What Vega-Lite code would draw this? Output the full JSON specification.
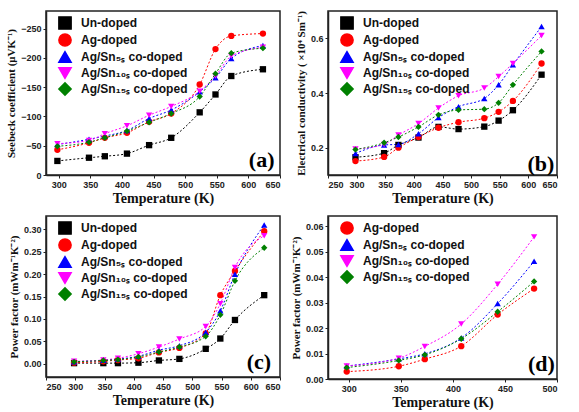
{
  "$schema": "https://vega.github.io/schema/vega-lite/v6.json",
  "padding": {"left": 4, "top": 9, "right": 5, "bottom": 0},
  "background": "white",
  "datasets": {
    "a": [
      {"T":298,"s":"U","v":-24},{"T":348,"s":"U","v":-29.5},{"T":373,"s":"U","v":-32},{"T":408,"s":"U","v":-36.5},{"T":443,"s":"U","v":-51},{"T":478,"s":"U","v":-63.5},{"T":523,"s":"U","v":-107},{"T":548,"s":"U","v":-137.5},{"T":573,"s":"U","v":-169},{"T":623,"s":"U","v":-180.5},
      {"T":298,"s":"A","v":-43},{"T":348,"s":"A","v":-55},{"T":373,"s":"A","v":-63.5},{"T":408,"s":"A","v":-72},{"T":443,"s":"A","v":-91},{"T":478,"s":"A","v":-105},{"T":523,"s":"A","v":-154.5},{"T":548,"s":"A","v":-215},{"T":573,"s":"A","v":-237.5},{"T":623,"s":"A","v":-241.5},
      {"T":298,"s":"S5","v":-52},{"T":348,"s":"S5","v":-61},{"T":373,"s":"S5","v":-66.5},{"T":408,"s":"S5","v":-76},{"T":443,"s":"S5","v":-96.5},{"T":478,"s":"S5","v":-111},{"T":523,"s":"S5","v":-142},{"T":548,"s":"S5","v":-166},{"T":573,"s":"S5","v":-199},{"T":623,"s":"S5","v":-221},
      {"T":298,"s":"S10","v":-53.5},{"T":348,"s":"S10","v":-59},{"T":373,"s":"S10","v":-70.5},{"T":408,"s":"S10","v":-84},{"T":443,"s":"S10","v":-102},{"T":478,"s":"S10","v":-117},{"T":523,"s":"S10","v":-143},{"T":548,"s":"S10","v":-169},{"T":573,"s":"S10","v":-203},{"T":623,"s":"S10","v":-218},
      {"T":298,"s":"S15","v":-49},{"T":348,"s":"S15","v":-56},{"T":373,"s":"S15","v":-63.5},{"T":408,"s":"S15","v":-75},{"T":443,"s":"S15","v":-90},{"T":478,"s":"S15","v":-105},{"T":523,"s":"S15","v":-134},{"T":548,"s":"S15","v":-173},{"T":573,"s":"S15","v":-208},{"T":623,"s":"S15","v":-216.5}
    ],
    "b": [
      {"T":298,"s":"U","v":0.165},{"T":348,"s":"U","v":0.18},{"T":373,"s":"U","v":0.21},{"T":408,"s":"U","v":0.237},{"T":443,"s":"U","v":0.276},{"T":478,"s":"U","v":0.268},{"T":523,"s":"U","v":0.277},{"T":548,"s":"U","v":0.299},{"T":573,"s":"U","v":0.337},{"T":623,"s":"U","v":0.467},
      {"T":298,"s":"A","v":0.151},{"T":348,"s":"A","v":0.166},{"T":373,"s":"A","v":0.2},{"T":408,"s":"A","v":0.239},{"T":443,"s":"A","v":0.273},{"T":478,"s":"A","v":0.293},{"T":523,"s":"A","v":0.308},{"T":548,"s":"A","v":0.331},{"T":573,"s":"A","v":0.371},{"T":623,"s":"A","v":0.508},
      {"T":298,"s":"S5","v":0.179},{"T":348,"s":"S5","v":0.21},{"T":373,"s":"S5","v":0.212},{"T":408,"s":"S5","v":0.251},{"T":443,"s":"S5","v":0.31},{"T":478,"s":"S5","v":0.35},{"T":523,"s":"S5","v":0.38},{"T":548,"s":"S5","v":0.43},{"T":573,"s":"S5","v":0.503},{"T":623,"s":"S5","v":0.643},
      {"T":298,"s":"S10","v":0.195},{"T":348,"s":"S10","v":0.212},{"T":373,"s":"S10","v":0.246},{"T":408,"s":"S10","v":0.288},{"T":443,"s":"S10","v":0.345},{"T":478,"s":"S10","v":0.39},{"T":523,"s":"S10","v":0.418},{"T":548,"s":"S10","v":0.46},{"T":573,"s":"S10","v":0.508},{"T":623,"s":"S10","v":0.61},
      {"T":298,"s":"S15","v":0.193},{"T":348,"s":"S15","v":0.218},{"T":373,"s":"S15","v":0.239},{"T":408,"s":"S15","v":0.276},{"T":443,"s":"S15","v":0.32},{"T":478,"s":"S15","v":0.338},{"T":523,"s":"S15","v":0.341},{"T":548,"s":"S15","v":0.364},{"T":573,"s":"S15","v":0.43},{"T":623,"s":"S15","v":0.552}
    ],
    "c": [
      {"T":298,"s":"U","v":0.001},{"T":348,"s":"U","v":0.001},{"T":373,"s":"U","v":0.001},{"T":408,"s":"U","v":0.002},{"T":443,"s":"U","v":0.007},{"T":478,"s":"U","v":0.0105},{"T":523,"s":"U","v":0.033},{"T":548,"s":"U","v":0.056},{"T":573,"s":"U","v":0.0975},{"T":623,"s":"U","v":0.153},
      {"T":298,"s":"A","v":0.002},{"T":348,"s":"A","v":0.005},{"T":373,"s":"A","v":0.008},{"T":408,"s":"A","v":0.012},{"T":443,"s":"A","v":0.025},{"T":478,"s":"A","v":0.035},{"T":523,"s":"A","v":0.0675},{"T":548,"s":"A","v":0.153},{"T":573,"s":"A","v":0.207},{"T":623,"s":"A","v":0.296},
      {"T":298,"s":"S5","v":0.004},{"T":348,"s":"S5","v":0.0075},{"T":373,"s":"S5","v":0.01},{"T":408,"s":"S5","v":0.0165},{"T":443,"s":"S5","v":0.03},{"T":478,"s":"S5","v":0.04},{"T":523,"s":"S5","v":0.07},{"T":548,"s":"S5","v":0.118},{"T":573,"s":"S5","v":0.2},{"T":623,"s":"S5","v":0.31},
      {"T":298,"s":"S10","v":0.005},{"T":348,"s":"S10","v":0.008},{"T":373,"s":"S10","v":0.012},{"T":408,"s":"S10","v":0.022},{"T":443,"s":"S10","v":0.037},{"T":478,"s":"S10","v":0.055},{"T":523,"s":"S10","v":0.083},{"T":548,"s":"S10","v":0.134},{"T":573,"s":"S10","v":0.215},{"T":623,"s":"S10","v":0.286},
      {"T":298,"s":"S15","v":0.004},{"T":348,"s":"S15","v":0.007},{"T":373,"s":"S15","v":0.009},{"T":408,"s":"S15","v":0.015},{"T":443,"s":"S15","v":0.026},{"T":478,"s":"S15","v":0.037},{"T":523,"s":"S15","v":0.061},{"T":548,"s":"S15","v":0.109},{"T":573,"s":"S15","v":0.185},{"T":623,"s":"S15","v":0.259}
    ],
    "d": [
      {"T":298,"s":"A","v":0.0029},{"T":348,"s":"A","v":0.005},{"T":373,"s":"A","v":0.0078},{"T":408,"s":"A","v":0.0129},{"T":443,"s":"A","v":0.0253},{"T":478,"s":"A","v":0.0355},
      {"T":298,"s":"S5","v":0.0051},{"T":348,"s":"S5","v":0.0079},{"T":373,"s":"S5","v":0.0099},{"T":408,"s":"S5","v":0.0161},{"T":443,"s":"S5","v":0.0296},{"T":478,"s":"S5","v":0.0462},
      {"T":298,"s":"S10","v":0.0051},{"T":348,"s":"S10","v":0.0082},{"T":373,"s":"S10","v":0.0128},{"T":408,"s":"S10","v":0.0216},{"T":443,"s":"S10","v":0.0372},{"T":478,"s":"S10","v":0.0558},
      {"T":298,"s":"S15","v":0.0045},{"T":348,"s":"S15","v":0.0073},{"T":373,"s":"S15","v":0.0095},{"T":408,"s":"S15","v":0.0158},{"T":443,"s":"S15","v":0.0264},{"T":478,"s":"S15","v":0.0383}
    ]
  },
  "columns": 2,
  "spacing": {"row": 9, "column": 7},
  "resolve": {"scale": {"color": "independent", "shape": "independent"}, "legend": {"color": "independent", "shape": "independent"}},
  "concat": [
    {
      "width": 234, "height": 164,
      "data": {"name": "a"},
      "encoding": {
        "x": {"field": "T", "type": "quantitative", "scale": {"domain": [280, 650], "nice": false, "zero": false}, "axis": {"values": [300,350,400,450,500,550,600,650], "title": "Temperature (K)"}},
        "y": {"field": "v", "type": "quantitative", "scale": {"domain": [-280, 0], "nice": false, "reverse": true}, "axis": {"values": [-250,-200,-150,-100,-50,0], "format": "d", "title": "Seebeck coefficient (μVK⁻¹)"}}
      },
      "layer": [
        {"mark": {"type": "line", "interpolate": "monotone", "strokeDash": [2, 2], "strokeWidth": 1},
         "encoding": {"color": {"field": "s", "type": "nominal", "scale": {"domain": ["U","A","S5","S10","S15"], "range": ["#000000","#ff0000","#0000ff","#ff00ff","#008000"]}, "legend": {"labelExpr": "{'U':'Un-doped','A':'Ag-doped','S5':'Ag/Sn₅ₛ co-doped','S10':'Ag/Sn₁₀ₛ co-doped','S15':'Ag/Sn₁₅ₛ co-doped'}[datum.value]"}}}},
        {"mark": {"type": "point", "filled": true, "size": 40, "opacity": 1},
         "encoding": {"color": {"field": "s", "type": "nominal", "scale": {"domain": ["U","A","S5","S10","S15"], "range": ["#000000","#ff0000","#0000ff","#ff00ff","#008000"]}, "legend": {"labelExpr": "{'U':'Un-doped','A':'Ag-doped','S5':'Ag/Sn₅ₛ co-doped','S10':'Ag/Sn₁₀ₛ co-doped','S15':'Ag/Sn₁₅ₛ co-doped'}[datum.value]"}},
                      "shape": {"field": "s", "type": "nominal", "scale": {"domain": ["U","A","S5","S10","S15"], "range": ["square","circle","triangle-up","triangle-down","diamond"]}, "legend": {"labelExpr": "{'U':'Un-doped','A':'Ag-doped','S5':'Ag/Sn₅ₛ co-doped','S10':'Ag/Sn₁₀ₛ co-doped','S15':'Ag/Sn₁₅ₛ co-doped'}[datum.value]"}}}},
        {"data": {"values": [{"T": 621, "v": -26, "lab": "(a)"}]},
         "mark": {"type": "text", "font": "Liberation Serif", "fontWeight": "bold", "fontSize": 22, "color": "black"},
         "encoding": {"text": {"field": "lab"}}}
      ]
    },
    {
      "width": 229, "height": 164,
      "data": {"name": "b"},
      "encoding": {
        "x": {"field": "T", "type": "quantitative", "scale": {"domain": [250, 650], "nice": false, "zero": false}, "axis": {"values": [250,300,350,400,450,500,550,600,650], "title": "Temperature (K)"}},
        "y": {"field": "v", "type": "quantitative", "scale": {"domain": [0.1, 0.7], "nice": false, "zero": false}, "axis": {"values": [0.2,0.4,0.6], "format": ".1f", "title": "Electrical conductivity ( ×10⁴ Sm⁻¹)"}}
      },
      "layer": [
        {"mark": {"type": "line", "interpolate": "monotone", "strokeDash": [2, 2], "strokeWidth": 1},
         "encoding": {"color": {"field": "s", "type": "nominal", "scale": {"domain": ["U","A","S5","S10","S15"], "range": ["#000000","#ff0000","#0000ff","#ff00ff","#008000"]}, "legend": {"labelExpr": "{'U':'Un-doped','A':'Ag-doped','S5':'Ag/Sn₅ₛ co-doped','S10':'Ag/Sn₁₀ₛ co-doped','S15':'Ag/Sn₁₅ₛ co-doped'}[datum.value]"}}}},
        {"mark": {"type": "point", "filled": true, "size": 40, "opacity": 1},
         "encoding": {"color": {"field": "s", "type": "nominal", "scale": {"domain": ["U","A","S5","S10","S15"], "range": ["#000000","#ff0000","#0000ff","#ff00ff","#008000"]}, "legend": {"labelExpr": "{'U':'Un-doped','A':'Ag-doped','S5':'Ag/Sn₅ₛ co-doped','S10':'Ag/Sn₁₀ₛ co-doped','S15':'Ag/Sn₁₅ₛ co-doped'}[datum.value]"}},
                      "shape": {"field": "s", "type": "nominal", "scale": {"domain": ["U","A","S5","S10","S15"], "range": ["square","circle","triangle-up","triangle-down","diamond"]}, "legend": {"labelExpr": "{'U':'Un-doped','A':'Ag-doped','S5':'Ag/Sn₅ₛ co-doped','S10':'Ag/Sn₁₀ₛ co-doped','S15':'Ag/Sn₁₅ₛ co-doped'}[datum.value]"}}}},
        {"data": {"values": [{"T": 622, "v": 0.141, "lab": "(b)"}]},
         "mark": {"type": "text", "font": "Liberation Serif", "fontWeight": "bold", "fontSize": 22, "color": "black"},
         "encoding": {"text": {"field": "lab"}}}
      ]
    },
    {
      "width": 234, "height": 161,
      "data": {"name": "c"},
      "encoding": {
        "x": {"field": "T", "type": "quantitative", "scale": {"domain": [250, 650], "nice": false, "zero": false}, "axis": {"values": [250,300,350,400,450,500,550,600,650], "title": "Temperature (K)"}},
        "y": {"field": "v", "type": "quantitative", "scale": {"domain": [-0.03, 0.33], "nice": false, "zero": false}, "axis": {"values": [0,0.05,0.1,0.15,0.2,0.25,0.3], "format": ".2f", "title": "Power factor (mWm⁻¹K⁻²)"}}
      },
      "layer": [
        {"mark": {"type": "line", "interpolate": "monotone", "strokeDash": [2, 2], "strokeWidth": 1},
         "encoding": {"color": {"field": "s", "type": "nominal", "scale": {"domain": ["U","A","S5","S10","S15"], "range": ["#000000","#ff0000","#0000ff","#ff00ff","#008000"]}, "legend": {"labelExpr": "{'U':'Un-doped','A':'Ag-doped','S5':'Ag/Sn₅ₛ co-doped','S10':'Ag/Sn₁₀ₛ co-doped','S15':'Ag/Sn₁₅ₛ co-doped'}[datum.value]"}}}},
        {"mark": {"type": "point", "filled": true, "size": 40, "opacity": 1},
         "encoding": {"color": {"field": "s", "type": "nominal", "scale": {"domain": ["U","A","S5","S10","S15"], "range": ["#000000","#ff0000","#0000ff","#ff00ff","#008000"]}, "legend": {"labelExpr": "{'U':'Un-doped','A':'Ag-doped','S5':'Ag/Sn₅ₛ co-doped','S10':'Ag/Sn₁₀ₛ co-doped','S15':'Ag/Sn₁₅ₛ co-doped'}[datum.value]"}},
                      "shape": {"field": "s", "type": "nominal", "scale": {"domain": ["U","A","S5","S10","S15"], "range": ["square","circle","triangle-up","triangle-down","diamond"]}, "legend": {"labelExpr": "{'U':'Un-doped','A':'Ag-doped','S5':'Ag/Sn₅ₛ co-doped','S10':'Ag/Sn₁₀ₛ co-doped','S15':'Ag/Sn₁₅ₛ co-doped'}[datum.value]"}}}},
        {"data": {"values": [{"T": 614, "v": 0.004, "lab": "(c)"}]},
         "mark": {"type": "text", "font": "Liberation Serif", "fontWeight": "bold", "fontSize": 22, "color": "black"},
         "encoding": {"text": {"field": "lab"}}}
      ]
    },
    {
      "width": 229, "height": 163,
      "data": {"name": "d"},
      "encoding": {
        "x": {"field": "T", "type": "quantitative", "scale": {"domain": [280, 500], "nice": false, "zero": false}, "axis": {"values": [300,350,400,450,500], "title": "Temperature (K)"}},
        "y": {"field": "v", "type": "quantitative", "scale": {"domain": [0, 0.064], "nice": false, "zero": false}, "axis": {"values": [0,0.01,0.02,0.03,0.04,0.05,0.06], "format": ".2f", "title": "Power factor (mWm⁻¹K⁻²)"}}
      },
      "layer": [
        {"mark": {"type": "line", "interpolate": "monotone", "strokeDash": [2, 2], "strokeWidth": 1},
         "encoding": {"color": {"field": "s", "type": "nominal", "scale": {"domain": ["A","S5","S10","S15"], "range": ["#ff0000","#0000ff","#ff00ff","#008000"]}, "legend": {"labelExpr": "{'U':'Un-doped','A':'Ag-doped','S5':'Ag/Sn₅ₛ co-doped','S10':'Ag/Sn₁₀ₛ co-doped','S15':'Ag/Sn₁₅ₛ co-doped'}[datum.value]"}}}},
        {"mark": {"type": "point", "filled": true, "size": 40, "opacity": 1},
         "encoding": {"color": {"field": "s", "type": "nominal", "scale": {"domain": ["A","S5","S10","S15"], "range": ["#ff0000","#0000ff","#ff00ff","#008000"]}, "legend": {"labelExpr": "{'U':'Un-doped','A':'Ag-doped','S5':'Ag/Sn₅ₛ co-doped','S10':'Ag/Sn₁₀ₛ co-doped','S15':'Ag/Sn₁₅ₛ co-doped'}[datum.value]"}},
                      "shape": {"field": "s", "type": "nominal", "scale": {"domain": ["A","S5","S10","S15"], "range": ["circle","triangle-up","triangle-down","diamond"]}, "legend": {"labelExpr": "{'U':'Un-doped','A':'Ag-doped','S5':'Ag/Sn₅ₛ co-doped','S10':'Ag/Sn₁₀ₛ co-doped','S15':'Ag/Sn₁₅ₛ co-doped'}[datum.value]"}}}},
        {"data": {"values": [{"T": 485, "v": 0.0058, "lab": "(d)"}]},
         "mark": {"type": "text", "font": "Liberation Serif", "fontWeight": "bold", "fontSize": 22, "color": "black"},
         "encoding": {"text": {"field": "lab"}}}
      ]
    }
  ],
  "config": {
    "view": {"stroke": "#222", "strokeWidth": 1.5},
    "axis": {"labelFont": "Liberation Sans", "labelFontWeight": "bold", "labelFontSize": 9, "labelColor": "#222", "titleFont": "Liberation Serif", "titleFontWeight": "bold", "titleColor": "#111", "domainColor": "#222", "domainWidth": 1.5, "tickColor": "#222", "tickSize": 3, "grid": false, "labelPadding": 2},
    "axisX": {"titleFontSize": 14, "titlePadding": 2},
    "axisY": {"titleFontSize": 11, "titlePadding": 4},
    "legend": {"orient": "none", "legendX": 12, "legendY": 5, "title": null, "labelFont": "Liberation Sans", "labelFontWeight": "bold", "labelFontSize": 12, "labelColor": "#111", "symbolSize": 150, "rowPadding": -3, "labelOffset": 9, "padding": 0}
  }
}
